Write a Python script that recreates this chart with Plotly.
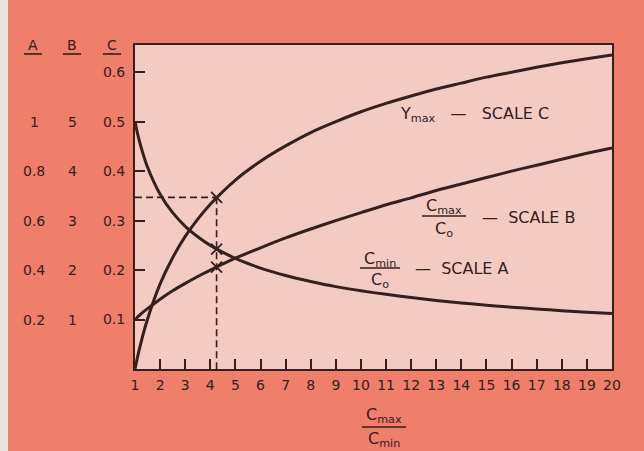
import plotly.graph_objects as go

# Ratio Cmax/Cmin along the bottom axis
ratio = [1, 1.05, 1.1, 1.25, 1.5, 2, 2.5, 3, 3.5, 4, 5, 6, 7, 8, 9, 10,
         11, 12, 13, 14, 15, 16, 17, 18, 19, 20]

# Ymax, read on scale C
ymax_c = [0.0, 0.012, 0.024, 0.056, 0.101, 0.172, 0.225, 0.268, 0.303, 0.333,
          0.382, 0.420, 0.451, 0.478, 0.500, 0.520, 0.537, 0.552, 0.566,
          0.578, 0.590, 0.600, 0.610, 0.619, 0.627, 0.635]

# Cmax/Co, read on scale B
cmax_b = [1.00, 1.02, 1.05, 1.12, 1.22, 1.41, 1.58, 1.73, 1.87, 2.00, 2.24,
          2.45, 2.65, 2.83, 3.00, 3.16, 3.32, 3.46, 3.61, 3.74, 3.87, 4.00,
          4.12, 4.24, 4.36, 4.47]

# Cmin/Co, read on scale A
cmin_a = [1.000, 0.976, 0.953, 0.894, 0.816, 0.707, 0.632, 0.577, 0.535,
          0.500, 0.447, 0.408, 0.378, 0.354, 0.333, 0.316, 0.302, 0.289,
          0.277, 0.267, 0.258, 0.250, 0.243, 0.236, 0.229, 0.224]

# Worked example
example_ratio = 4.25
example_ymax_c = 0.347
example_cmax_b = 2.06
example_cmin_a = 0.485

# Scale columns
scale_c = [0.1, 0.2, 0.3, 0.4, 0.5, 0.6]
scale_b = ["1", "2", "3", "4", "5"]
scale_a = ["0.2", "0.4", "0.6", "0.8", "1"]
scale_c_text = ["0.1", "0.2", "0.3", "0.4", "0.5", "0.6"]
x_ticks = list(range(1, 21))

# Scale conversions onto the common (C) axis
B_TO_C = 0.1
A_TO_C = 0.5

INK = "#35201f"
OUTER = "#ef7e6a"
INNER = "#f4cbc3"
FONT = "DejaVu Sans"

W, H = 644, 451
L, R, T, B = 135, 612, 45, 369


def px(x):
    return (x - L) / (R - L)


def py(y):
    return (B - y) / (B - T)


fig = go.Figure()

curve = dict(color=INK, width=3, shape="spline", smoothing=0.6)
fig.add_trace(go.Scatter(x=ratio, y=ymax_c, mode="lines", line=curve,
                         hoverinfo="skip"))
fig.add_trace(go.Scatter(x=ratio, y=[v * B_TO_C for v in cmax_b], mode="lines",
                         line=curve, hoverinfo="skip"))
fig.add_trace(go.Scatter(x=ratio, y=[v * A_TO_C for v in cmin_a], mode="lines",
                         line=curve, hoverinfo="skip"))

# Dashed guide lines for the worked example
dash = dict(color=INK, width=1.6, dash="7px,4px")
fig.add_trace(go.Scatter(x=[1, example_ratio], y=[example_ymax_c, example_ymax_c],
                         mode="lines", line=dash, hoverinfo="skip"))
fig.add_trace(go.Scatter(x=[example_ratio, example_ratio], y=[example_ymax_c, 0],
                         mode="lines", line=dash, hoverinfo="skip"))
fig.add_trace(go.Scatter(
    x=[example_ratio] * 3,
    y=[example_ymax_c, example_cmax_b * B_TO_C, example_cmin_a * A_TO_C],
    mode="markers",
    marker=dict(symbol="x-thin", size=11, line=dict(color=INK, width=1.8)),
    hoverinfo="skip"))

fig.update_layout(
    width=W, height=H,
    margin=dict(l=L, r=W - R, t=T, b=H - B),
    paper_bgcolor=OUTER, plot_bgcolor=INNER,
    showlegend=False,
    font=dict(family=FONT, size=14, color=INK),
)

fig.update_xaxes(
    range=[1, 20], tickvals=x_ticks, ticktext=[str(v) for v in x_ticks],
    ticks="inside", ticklen=10, tickwidth=1.5, tickcolor=INK,
    showgrid=False, zeroline=False, showline=True, linecolor=INK,
    linewidth=2, mirror=True, tickfont=dict(size=14, color=INK),
    ticklabelstandoff=2,
)
fig.update_yaxes(
    range=[0, 0.655], tickvals=scale_c, ticktext=scale_c_text,
    ticks="inside", ticklen=10, tickwidth=1.5, tickcolor=INK,
    showgrid=False, zeroline=False, showline=True, linecolor=INK,
    linewidth=2, mirror=True, tickfont=dict(size=14, color=INK),
    ticklabelstandoff=5,
)

ann = []
shapes = []

# Column headers with underlines
for name, cx in (("A", 33), ("B", 72), ("C", 112)):
    ann.append(dict(x=px(cx), y=py(45), xref="paper", yref="paper", text=name,
                    showarrow=False, xanchor="center", yanchor="middle",
                    font=dict(size=14)))
    shapes.append(dict(type="line", xref="paper", yref="paper",
                       x0=px(cx - 9), x1=px(cx + 9), y0=py(54), y1=py(54),
                       line=dict(color=INK, width=1.6)))

# Scale A and B values alongside scale C
for i, c in enumerate(scale_c[:5]):
    ann.append(dict(x=px(34), y=c, xref="paper", yref="y", text=scale_a[i],
                    showarrow=False, xanchor="center", yanchor="middle",
                    font=dict(size=14)))
    ann.append(dict(x=px(72), y=c, xref="paper", yref="y", text=scale_b[i],
                    showarrow=False, xanchor="center", yanchor="middle",
                    font=dict(size=14)))


def fraction(cx, num, den, y_num, y_line, y_den, half):
    ann.append(dict(x=px(cx), y=py(y_num), xref="paper", yref="paper", text=num,
                    showarrow=False, xanchor="center", yanchor="middle",
                    font=dict(size=16)))
    ann.append(dict(x=px(cx), y=py(y_den), xref="paper", yref="paper", text=den,
                    showarrow=False, xanchor="center", yanchor="middle",
                    font=dict(size=16)))
    shapes.append(dict(type="line", xref="paper", yref="paper",
                       x0=px(cx - half), x1=px(cx + half),
                       y0=py(y_line), y1=py(y_line),
                       line=dict(color=INK, width=1.6)))


# Bottom axis title
fraction(384, "C<sub>max</sub>", "C<sub>min</sub>", 415, 427, 439, 22)

# Curve labels
ann.append(dict(x=px(398), y=py(115), xref="paper", yref="paper",
                text="Y<sub>max</sub>   —   SCALE C", showarrow=False,
                xanchor="left", yanchor="middle", font=dict(size=16)))
fraction(444, "C<sub>max</sub>", "C<sub>o</sub>", 206, 216, 229, 22)
ann.append(dict(x=px(480), y=py(217), xref="paper", yref="paper",
                text="—  SCALE B", showarrow=False,
                xanchor="left", yanchor="middle", font=dict(size=16)))
fraction(380, "C<sub>min</sub>", "C<sub>o</sub>", 259, 268, 280, 20)
ann.append(dict(x=px(413), y=py(268), xref="paper", yref="paper",
                text="—  SCALE A", showarrow=False,
                xanchor="left", yanchor="middle", font=dict(size=16)))

# Pale strip along the left edge of the page
shapes.append(dict(type="rect", xref="paper", yref="paper", layer="below",
                   x0=px(0), x1=px(8), y0=py(H), y1=py(0),
                   fillcolor="#ebe5e1", line=dict(width=0)))

fig.update_layout(annotations=ann, shapes=shapes)

fig.write_html("out.html")
